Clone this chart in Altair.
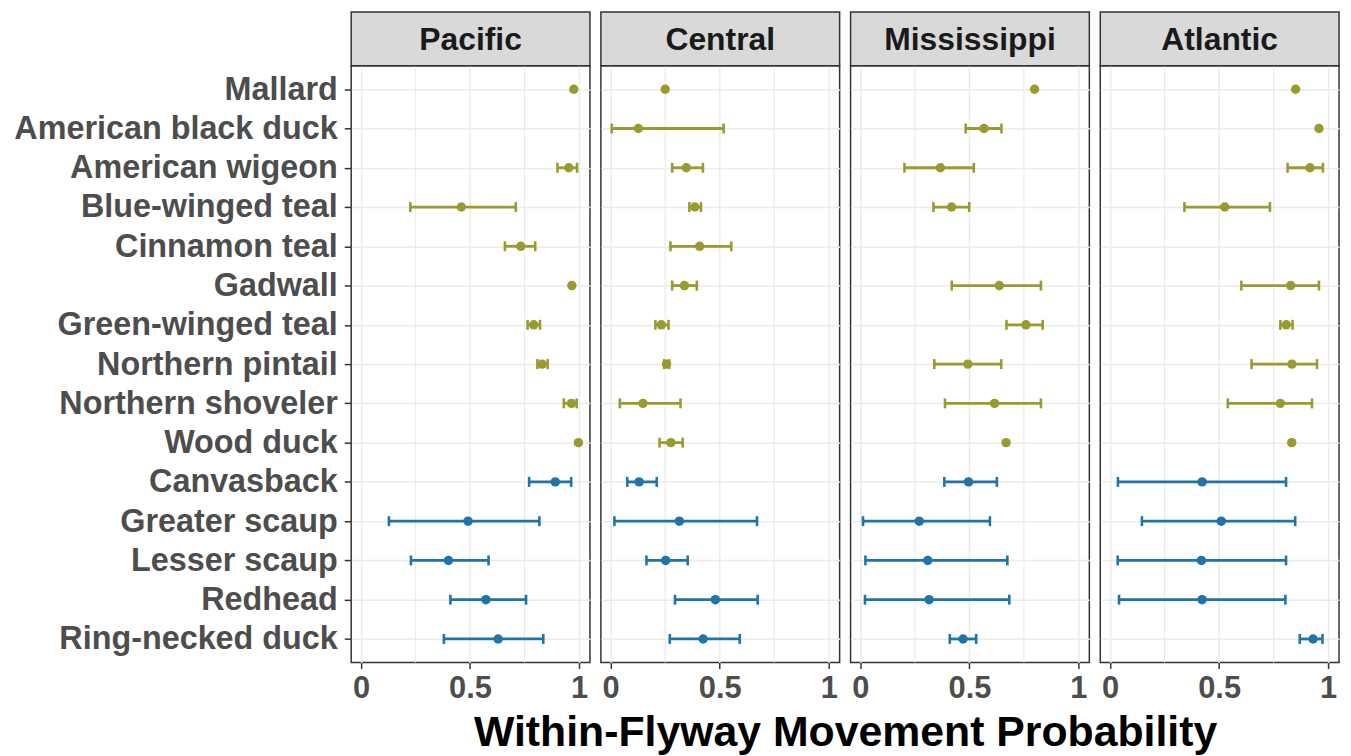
import altair as alt
import pandas as pd

species = ["Mallard", "American black duck", "American wigeon", "Blue-winged teal",
           "Cinnamon teal", "Gadwall", "Green-winged teal", "Northern pintail",
           "Northern shoveler", "Wood duck", "Canvasback", "Greater scaup",
           "Lesser scaup", "Redhead", "Ring-necked duck"]
groups = ["dabbling", "dabbling", "dabbling", "dabbling", "dabbling", "dabbling",
          "dabbling", "dabbling", "dabbling", "dabbling", "diving", "diving",
          "diving", "diving", "diving"]
flyways = ["Pacific", "Central", "Mississippi", "Atlantic"]

pacific_est = [0.976, None, 0.953, 0.460, 0.733, 0.967, 0.792, 0.831, 0.965, 0.997, 0.891, 0.491, 0.401, 0.573, 0.629]
pacific_lo = [None, None, 0.901, 0.226, 0.660, None, 0.764, 0.809, 0.930, None, 0.771, 0.128, 0.229, 0.410, 0.380]
pacific_hi = [None, None, 0.991, 0.710, 0.799, None, 0.821, 0.856, 0.989, None, 0.964, 0.818, 0.585, 0.757, 0.836]

central_est = [0.250, 0.127, 0.347, 0.386, 0.408, 0.338, 0.232, 0.256, 0.148, 0.276, 0.130, 0.315, 0.252, 0.480, 0.424]
central_lo = [None, 0.005, 0.282, 0.361, 0.274, 0.282, 0.205, 0.245, 0.042, 0.224, 0.076, 0.017, 0.164, 0.295, 0.271]
central_hi = [None, 0.518, 0.423, 0.414, 0.553, 0.395, 0.265, 0.268, 0.320, 0.330, 0.211, 0.671, 0.353, 0.674, 0.592]

miss_est = [0.799, 0.567, 0.367, 0.418, None, 0.637, 0.759, 0.493, 0.615, 0.668, 0.496, 0.270, 0.309, 0.315, 0.471]
miss_lo = [None, 0.483, 0.202, 0.335, None, 0.419, 0.670, 0.339, 0.388, None, 0.385, 0.012, 0.023, 0.021, 0.410]
miss_hi = [None, 0.647, 0.520, 0.499, None, 0.828, 0.836, 0.646, 0.828, None, 0.626, 0.594, 0.674, 0.683, 0.531]

atl_est = [0.851, 0.958, 0.917, 0.526, None, 0.828, 0.808, 0.834, 0.781, 0.833, 0.422, 0.510, 0.419, 0.422, 0.931]
atl_lo = [None, None, 0.814, 0.341, None, 0.602, 0.781, 0.649, 0.540, None, 0.036, 0.146, 0.035, 0.041, 0.870]
atl_hi = [None, None, 0.976, 0.733, None, 0.958, 0.837, 0.949, 0.926, None, 0.807, 0.849, 0.807, 0.804, 0.974]

x_major = [0, 0.5, 1]
x_minor = [0.25, 0.75]

OLIVE = "#9a9a2e"
BLUE = "#1f74a8"
FONT = "Liberation Sans"
TITLE = "Within-Flyway Movement Probability"

series = {
    "Pacific": (pacific_est, pacific_lo, pacific_hi),
    "Central": (central_est, central_lo, central_hi),
    "Mississippi": (miss_est, miss_lo, miss_hi),
    "Atlantic": (atl_est, atl_lo, atl_hi),
}

rows = []
for fw in flyways:
    est, lo, hi = series[fw]
    for i, sp in enumerate(species):
        if est[i] is None:
            continue
        rows.append(dict(flyway=fw, species=sp, group=groups[i], est=est[i],
                         lo=lo[i], hi=hi[i]))
df = pd.DataFrame(rows)

W, H = 240, 600
STRIP = 54
GAP = 11

yscale = alt.Scale(type="point", domain=species, padding=0.6)
xscale = alt.Scale(domain=[-0.045, 1.05], nice=False, zero=False)
cscale = alt.Scale(domain=["dabbling", "diving"], range=[OLIVE, BLUE])


def panel(i, fw):
    d = df[df.flyway == fw]
    first = i == 0
    yaxis = alt.Axis(title=None, labels=first, ticks=first, domain=False, grid=True,
                     gridColor="#ebebeb", gridWidth=1.5, labelFontSize=32.5,
                     labelFont=FONT, labelFontWeight="bold", labelColor="#4d4d4d",
                     labelPadding=7, labelLimit=0, tickSize=7, tickColor="#333333",
                     tickWidth=1.5)
    xargs = dict(values=x_major, format="~g", grid=True, gridColor="#ebebeb",
                 gridWidth=1.5, domain=False, tickSize=6, tickColor="#333333",
                 tickWidth=1.5, labelFontSize=31, labelFont=FONT,
                 labelFontWeight="bold", labelColor="#4d4d4d", labelPadding=5)
    if i == 1:
        xaxis = alt.Axis(title=TITLE, titleX=W + GAP / 2, titleAlign="center",
                         titleFontSize=43, titleFont=FONT, titleFontWeight="bold",
                         titleColor="#000000", titlePadding=8, **xargs)
    else:
        xaxis = alt.Axis(title=None, **xargs)

    minor = alt.Chart(pd.DataFrame({"g": x_minor})).mark_rule(
        color="#ebebeb", strokeWidth=1.2).encode(
        x=alt.X("g:Q", scale=xscale, axis=xaxis))

    base = alt.Chart(d)
    color = alt.Color("group:N", scale=cscale, legend=None)
    y = alt.Y("species:N", scale=yscale, axis=yaxis)
    bars = base.transform_filter("isValid(datum.lo)")
    rule = bars.mark_rule(strokeWidth=2.8).encode(
        x=alt.X("lo:Q", scale=xscale, axis=xaxis), x2="hi:Q", y=y, color=color)
    tlo = bars.mark_tick(thickness=2.6, size=10, opacity=1).encode(
        x=alt.X("lo:Q", scale=xscale, axis=xaxis), y=y, color=color)
    thi = bars.mark_tick(thickness=2.6, size=10, opacity=1).encode(
        x=alt.X("hi:Q", scale=xscale, axis=xaxis), y=y, color=color)
    pts = base.mark_circle(size=90, opacity=1).encode(
        x=alt.X("est:Q", scale=xscale, axis=xaxis), y=y, color=color)

    sd = pd.DataFrame({"flyway": [fw]})
    strip = alt.Chart(sd).mark_rect(fill="#d9d9d9", stroke="#333333",
                                    strokeWidth=1.5).encode(
        x=alt.value(0), x2=alt.value(W), y=alt.value(-STRIP), y2=alt.value(0))
    stext = alt.Chart(sd).mark_text(fontSize=32, fontWeight="bold", font=FONT,
                                    color="#1a1a1a", baseline="middle",
                                    align="center").encode(
        x=alt.value(W / 2), y=alt.value(-STRIP / 2 + 1), text="flyway:N")

    return alt.layer(minor, rule, tlo, thi, pts, strip, stext).properties(
        width=W, height=H)


chart = alt.hconcat(*[panel(i, fw) for i, fw in enumerate(flyways)],
                    spacing=GAP, bounds="flush").properties(
    padding={"top": 0, "left": 5, "right": 2, "bottom": 0}
).configure_view(stroke="#333333", strokeWidth=1.5)

chart.save("out.html", embed_options={"renderer": "svg", "actions": False})
